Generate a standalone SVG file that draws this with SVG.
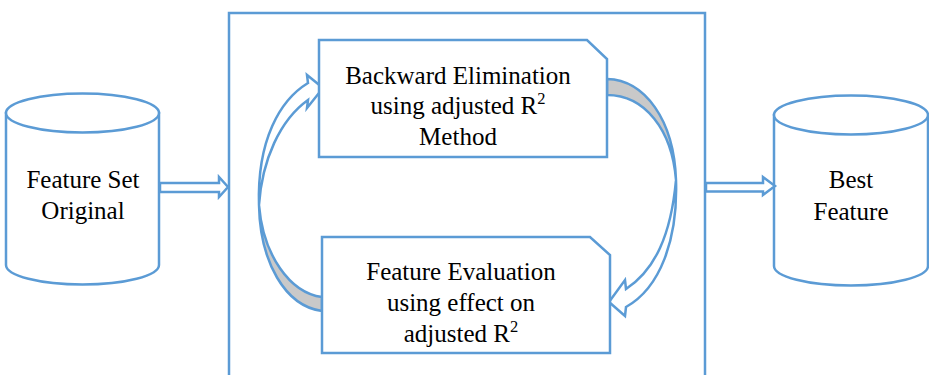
<svg xmlns="http://www.w3.org/2000/svg" width="929" height="375" viewBox="0 0 929 375">
<style>
.ln{fill:none;stroke:#5B9BD5;stroke-width:2.5;stroke-linejoin:miter}
.wf{fill:#FFFFFF;stroke:#5B9BD5;stroke-width:2.5}
.gf{fill:#C9C9C9;stroke:#5B9BD5;stroke-width:2.5}
.t{font-family:"Liberation Serif","Times New Roman",serif;font-size:25px;fill:#000;text-anchor:middle}
.sup{font-size:16.5px}
</style>
<rect width="929" height="375" fill="#FFFFFF"/>
<g id="container">
<path class="ln" d="M229,380 L229,13 L705,13 L705,380"/>
</g>
<g id="feature-set-original">
<path class="wf" d="M6,113 L6,265 A76.5,19.5 0 0 0 159,265 L159,113 Z"/>
<ellipse class="wf" cx="82.5" cy="113" rx="76.5" ry="19.5"/>
<text class="t" x="83" y="188">Feature Set</text>
<text class="t" x="83" y="219">Original</text>
</g>
<g id="best-feature">
<path class="wf" d="M774,115 L774,266 A77,19.5 0 0 0 928,266 L928,115 Z"/>
<ellipse class="wf" cx="851" cy="115" rx="77" ry="19.5"/>
<text class="t" x="851" y="188">Best</text>
<text class="t" x="851" y="220">Feature</text>
</g>
<g id="connectors">
<path class="wf" d="M160,183 L219,183 L219,177 L228,187 L219,197 L219,192 L160,192 Z"/>
<path class="wf" d="M706,183 L763,183 L763,177 L775,186 L763,195 L763,191.5 L706,191.5 Z"/>
<g id="loop-right">
<path class="gf" d="M607,79 C645,80 674,120 676,180 C672,130 645,95 607,95 Z"/>
<path class="wf" d="M676,180 C678,240 660,288 626,307 L625,316 L609,302 L625,280 L626,289 C655,270 671,235 676,180 Z"/>
</g>
<g id="loop-left">
<path class="gf" d="M322,311 C285,306 260,262 259,205 C263,255 290,293 322,297 Z"/>
<path class="wf" d="M259,205 C257,140 280,100 308,83 L307,75 L323,88 L307,108 L308,100 C280,120 262,160 259,205 Z"/>
</g>
</g>
<g id="backward-elimination">
<path class="wf" d="M319,40 L587,40 L607,59 L607,157 L319,157 Z"/>
<text class="t" x="458" y="84">Backward Elimination</text>
<text class="t" x="458" y="114">using adjusted R<tspan class="sup" dy="-10">2</tspan></text>
<text class="t" x="458" y="145">Method</text>
</g>
<g id="feature-evaluation">
<path class="wf" d="M322,237 L590,237 L610,255 L610,353 L322,353 Z"/>
<text class="t" x="461" y="280">Feature Evaluation</text>
<text class="t" x="461" y="311">using effect on</text>
<text class="t" x="461" y="342">adjusted R<tspan class="sup" dy="-10">2</tspan></text>
</g>
</svg>
